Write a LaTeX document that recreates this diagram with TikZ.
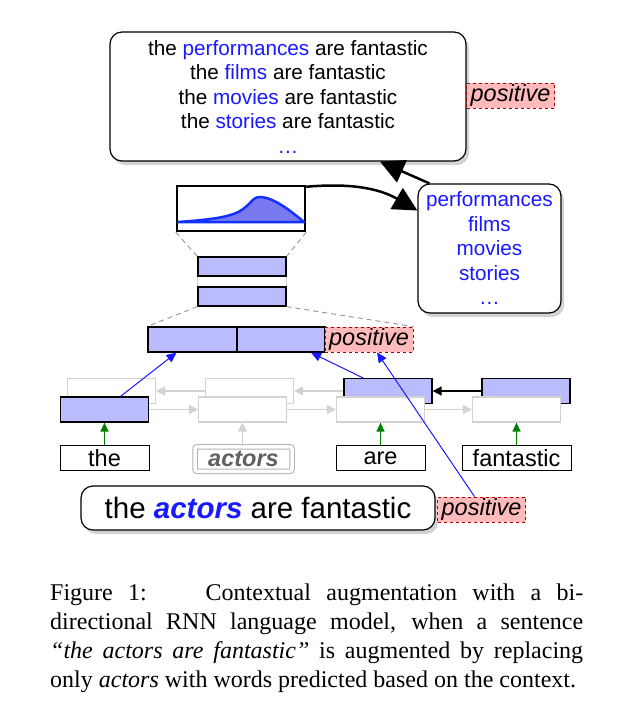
\documentclass[tikz,border=0pt]{standalone}
\usepackage{fontspec}
\setmainfont{Liberation Serif}
\setsansfont{Liberation Sans}
\usepackage{tikz}
\usetikzlibrary{arrows.meta,shadows}

\definecolor{cell_blue}{RGB}{187,187,255}
\definecolor{cell_gray}{RGB}{210,210,210}
\definecolor{word_blue}{RGB}{25,25,255}
\definecolor{tag_red}{RGB}{255,187,187}
\definecolor{tag_border}{RGB}{170,0,0}
\definecolor{curve_fill}{RGB}{122,122,240}
\definecolor{curve_line}{RGB}{20,50,255}
\definecolor{link_green}{RGB}{0,128,0}

\begin{document}
\begin{tikzpicture}[
        x=1pt, y=-1pt,
        font=\sffamily,
        bubble/.style={draw, line width=1.2pt, rounded corners=12pt, fill=white, inner sep=0pt, align=center,
            drop shadow={shadow xshift=3pt, shadow yshift=-4pt, opacity=0.35},
            font=\sffamily\fontsize{20.7}{24.5}\selectfont},
        rnn_on/.style={draw, line width=1.2pt, fill=cell_blue, minimum width=88pt, minimum height=25pt, inner sep=0pt},
        rnn_off/.style={draw=cell_gray, line width=1.2pt, fill=white, minimum width=88pt, minimum height=25pt, inner sep=0pt},
        word_box/.style={draw, line width=1pt, minimum width=89pt, minimum height=25pt, inner sep=0pt,
            font=\sffamily\fontsize{23.5}{26}\selectfont},
        tag_box/.style={draw=tag_border, dashed, line width=0.8pt, fill=tag_red, minimum width=88pt, minimum height=25pt,
            inner sep=0pt, font=\sffamily\itshape\fontsize{23.5}{26}\selectfont},
        big_arrow/.style={line width=2.5pt, -{Triangle[length=24pt,width=24pt]}},
        gray_link/.style={draw=cell_gray, line width=1.5pt, -{Triangle[length=9pt,width=9pt]}},
        green_link/.style={draw=link_green, line width=1.2pt, -{Triangle[length=9pt,width=8pt]}},
        blue_link/.style={draw=word_blue, line width=1pt, -{Triangle[length=10pt,width=9pt]}},
        zoom_line/.style={draw=gray!85, dash pattern=on 5pt off 4pt, line width=0.9pt}
    ]
    \useasboundingbox (0,0) rectangle (633,724);

    % --- Candidate sentences and words ---
    \node[bubble, minimum width=356pt, minimum height=129pt] (cands) at (288,96.5)
        {the \textcolor{word_blue}{performances} are fantastic\\
         the \textcolor{word_blue}{films} are fantastic\\
         the \textcolor{word_blue}{movies} are fantastic\\
         the \textcolor{word_blue}{stories} are fantastic\\
         \textcolor{word_blue}{\dots}};
    \node[tag_box] (pos_top) at (510.5,95.5) {positive};

    \node[bubble, minimum width=143pt, minimum height=129pt, text=word_blue] (words) at (489.5,248.5)
        {performances\\ films\\ movies\\ stories\\ \dots};

    % --- Output distribution ---
    \node[draw, line width=2.5pt, minimum width=128pt, minimum height=45pt, inner sep=0pt] (dist) at (241,208.5) {};
    \fill[curve_fill] (178,222) .. controls (205,220) and (228,218) .. (240,211)
        .. controls (252,204) and (252,196) .. (262,197) .. controls (276,199) and (292,212) .. (304,222) -- cycle;
    \draw[curve_line, line width=2.5pt, line join=round] (178,222) .. controls (205,220) and (228,218) .. (240,211)
        .. controls (252,204) and (252,196) .. (262,197) .. controls (276,199) and (292,212) .. (304,222) -- cycle;

    % --- Hidden layers ---
    \node[rnn_on, minimum height=19pt] (hid1) at (242,266.5) {};
    \node[rnn_on, minimum height=19pt] (hid2) at (242,296.5) {};
    \node[rnn_on, minimum width=89pt] (cat_l) at (192.5,339.5) {};
    \node[rnn_on, minimum width=88pt] (cat_r) at (281,339.5) {};
    \node[tag_box] (pos_mid) at (369,339.5) {positive};

    \draw[zoom_line] (dist.south west) -- (hid1.north west);
    \draw[zoom_line] (dist.south east) -- (hid1.north east);
    \draw[cell_gray, line width=1pt] (hid1.south west) -- (hid2.north west);
    \draw[cell_gray, line width=1pt] (hid1.south east) -- (hid2.north east);
    \draw[zoom_line] (hid2.south west) -- (cat_l.north west);
    \draw[zoom_line] (hid2.south east) -- (pos_mid.north east);

    % --- Backward RNN ---
    \node[rnn_off] (b1) at (111.5,391) {};
    \node[rnn_off] (b2) at (249.5,391) {};
    \node[rnn_on] (b3) at (388,391) {};
    \node[rnn_on] (b4) at (526,391) {};

    % --- Forward RNN ---
    \node[rnn_on] (f1) at (104.5,409.5) {};
    \node[rnn_off] (f2) at (242.5,409.5) {};
    \node[rnn_off] (f3) at (380.5,409.5) {};
    \node[rnn_off] (f4) at (516.5,409.5) {};

    % --- Input words ---
    \node[word_box] (w_the) at (104.5,458) {the};
    \node[draw=gray!60, double=white, double distance=3.5pt, line width=1pt, rounded corners=2pt,
        minimum width=97pt, minimum height=24.5pt, inner sep=0pt, text=gray!75!black,
        font=\sffamily\bfseries\itshape\fontsize{23.5}{26}\selectfont] (w_actors) at (243.5,459) {actors};
    \node[word_box] (w_are) at (380.5,458) {are};
    \node[word_box, minimum width=109pt] (w_fant) at (516.5,458) {fantastic};

    \node[bubble, minimum width=354pt, minimum height=44pt, font=\sffamily\fontsize{29.5}{32}\selectfont] (sent) at (258,508)
        {the \textcolor{word_blue}{\bfseries\itshape actors} are fantastic};
    \node[tag_box] (pos_bot) at (481.5,509.5) {positive};

    % --- Connections ---
    \draw[gray_link] (f1.east) -- (f2.west);
    \draw[gray_link] (f2.east) -- (f3.west);
    \draw[gray_link] (f3.east) -- (f4.west);
    \draw[gray_link] (b2.west) -- (b1.east);
    \draw[gray_link] (b3.west) -- (b2.east);
    \draw[line width=1.5pt, -{Triangle[length=9pt,width=9pt]}] (b4.west) -- (b3.east);

    \draw[green_link] (w_the) -- (f1);
    \draw[gray_link] (w_actors.north -| f2) -- (f2);
    \draw[green_link] (w_are) -- (f3);
    \draw[green_link] (w_fant) -- (f4);

    \draw[blue_link] ([xshift=16pt]f1.north) -- ([xshift=-16pt]cat_l.south);
    \draw[blue_link] ([xshift=-25pt]b3.north) -- ([xshift=30pt]cat_r.south);
    \draw[blue_link] ([xshift=-7pt]pos_bot.north) -- ([xshift=8pt]pos_mid.south);

    \draw[big_arrow] ([yshift=-2pt]dist.north east) to[out=5, in=150] ([yshift=38pt]words.west);
    \draw[big_arrow] ([xshift=12pt]words.north west) -- ([xshift=92pt]cands.south);

    % --- Caption ---
    \node[anchor=north west, text width=533pt, align=justify, inner sep=0pt,
        font=\rmfamily\fontsize{24}{29}\selectfont] (caption) at (50,584)
        {\parfillskip=0pt Figure 1:\hspace{32pt} Contextual augmentation with a bi-\linebreak
         directional RNN language model, when a sentence\linebreak
         \textit{“the actors are fantastic”} is augmented by replacing\linebreak
         only \textit{actors} with words predicted based on the context.};
\end{tikzpicture}
\end{document}
